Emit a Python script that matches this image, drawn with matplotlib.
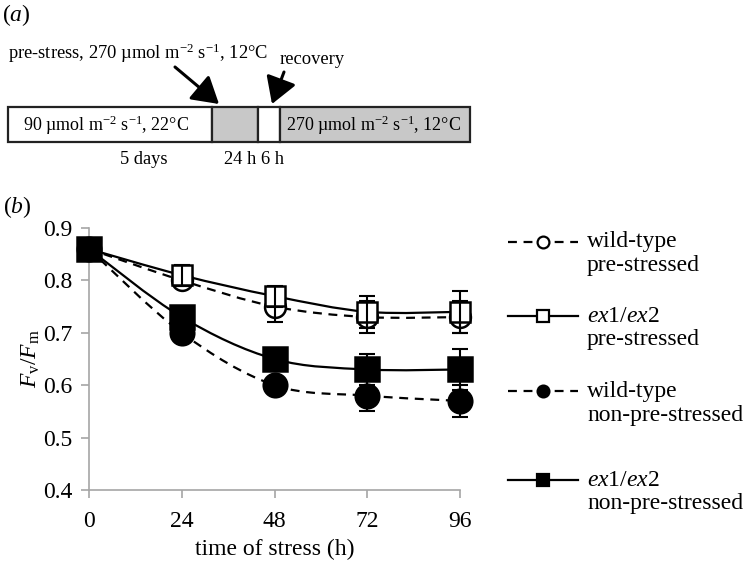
import matplotlib
matplotlib.use("Agg")
import matplotlib.pyplot as plt
from matplotlib.patches import Rectangle, FancyArrowPatch, PathPatch
from matplotlib.path import Path
from matplotlib.lines import Line2D
import numpy as np

plt.rcParams['font.family'] = ['Liberation Serif', 'DejaVu Serif']
plt.rcParams['mathtext.fontset'] = 'custom'
plt.rcParams['mathtext.rm'] = 'Liberation Serif'
plt.rcParams['mathtext.it'] = 'Liberation Serif:italic'

# data, panel (b)
hours = [0, 24, 48, 72, 96]
wt_pre = [0.86, 0.80, 0.75, 0.73, 0.73]
wt_pre_err = [0.0, 0.01, 0.03, 0.03, 0.03]
ex_pre = [0.86, 0.81, 0.77, 0.74, 0.74]
ex_pre_err = [0.0, 0.02, 0.02, 0.03, 0.04]
wt_non = [0.86, 0.70, 0.60, 0.58, 0.57]
wt_non_err = [0.0, 0.01, 0.01, 0.03, 0.03]
ex_non = [0.86, 0.73, 0.65, 0.63, 0.63]
ex_non_err = [0.0, 0.01, 0.01, 0.03, 0.04]

series_labels = ["wild-type\npre-stressed", "$ex1/ex2$\npre-stressed",
                 "wild-type\nnon-pre-stressed", "$ex1/ex2$\nnon-pre-stressed"]

# schematic, panel (a)
seg_labels = ["90 µmol m$^{-2}$ s$^{-1}$, 22°C", "", "", "270 µmol m$^{-2}$ s$^{-1}$, 12°C"]
seg_colors = ["white", "#c8c8c8", "white", "#c8c8c8"]
seg_edges = [8, 212, 258, 280, 470]   # pixel layout
seg_pad = [15, 0, 0, 6]
dur_labels = ["5 days", "24 h", "6 h"]
dur_x = [144, 240, 273]

W, H = 753, 564
fig = plt.figure(figsize=(W / 100, H / 100), dpi=100)

# overlay axes in pixel coords for the schematic
top = fig.add_axes([0, 0, 1, 1])
top.set_xlim(0, W)
top.set_ylim(H, 0)
top.axis("off")

fs = 17     # panel (b) text
fa = 13.3   # panel (a) text
top.text(2, 15, "($a$)", fontsize=fs, va="center", ha="left")
top.text(8, 53, "pre-stress, 270 µmol m$^{-2}$ s$^{-1}$, 12°C", fontsize=fa, va="center", ha="left")
top.text(280, 59, "recovery", fontsize=fa, va="center", ha="left")

for i in range(4):
    x0, x1 = seg_edges[i], seg_edges[i + 1]
    top.add_patch(Rectangle((x0, 107), x1 - x0, 35, facecolor=seg_colors[i],
                            edgecolor="#222222", lw=1.6))
    if seg_labels[i]:
        top.text(x0 + seg_pad[i], 125, seg_labels[i], fontsize=13, va="center", ha="left")
for lab, x in zip(dur_labels, dur_x):
    top.text(x, 160, lab, fontsize=fa, va="center", ha="center")

for (x0, y0), (x1, y1) in [((175, 67), (219, 104)), ((284, 72), (272, 104))]:
    top.add_patch(FancyArrowPatch((x0, y0), (x1, y1), arrowstyle="-|>,head_length=10,head_width=6",
                                  color="black", lw=2.2, mutation_scale=1.6, shrinkA=0, shrinkB=0))

top.text(3, 207, "($b$)", fontsize=fs, va="center", ha="left")

# panel (b)
ax = fig.add_axes([89 / W, 1 - 490 / H, (460 - 89) / W, (490 - 228) / H])
ax.set_xlim(0, 96)
ax.set_ylim(0.4, 0.9)
ax.set_xticks(hours)
ax.set_yticks([0.4, 0.5, 0.6, 0.7, 0.8, 0.9])
ax.set_yticklabels(["0.4", "0.5", "0.6", "0.7", "0.8", "0.9"])
for s in ["top", "right"]:
    ax.spines[s].set_visible(False)
for s in ["left", "bottom"]:
    ax.spines[s].set_color("#a6a6a6")
    ax.spines[s].set_linewidth(1.2)
ax.tick_params(direction="out", length=6, width=1.2, color="#a6a6a6", labelsize=fs, pad=6)
ax.tick_params(axis="x", pad=9)
ax.set_xlabel("time of stress (h)", fontsize=fs, labelpad=5)
ax.set_ylabel("$F_\\mathrm{v}/F_\\mathrm{m}$", fontsize=fs, labelpad=1)


def smooth_path(xs, ys):
    pts = np.column_stack([xs, ys]).astype(float)
    verts = [pts[0]]
    codes = [Path.MOVETO]
    n = len(pts)
    for i in range(n - 1):
        p0 = pts[max(i - 1, 0)]
        p1 = pts[i]
        p2 = pts[i + 1]
        p3 = pts[min(i + 2, n - 1)]
        c1 = p1 + (p2 - p0) / 6.0
        c2 = p2 - (p3 - p1) / 6.0
        verts += [c1, c2, p2]
        codes += [Path.CURVE4] * 3
    return Path(verts, codes)


styles = [
    (wt_pre, wt_pre_err, "o", "white", (0, (4, 3)), 15),
    (ex_pre, ex_pre_err, "s", "white", "-", 15),
    (wt_non, wt_non_err, "o", "black", (0, (4, 3)), 17),
    (ex_non, ex_non_err, "s", "black", "-", 17),
]

# filled series first so the open markers sit on top, as in the reference
order = [2, 3, 0, 1]
for k in order:
    ys, err, mk, fc, ls, ms = styles[k]
    ax.add_patch(PathPatch(smooth_path(hours, ys), facecolor="none", edgecolor="black",
                           lw=1.6, linestyle=ls, zorder=2, clip_on=False))
for k in order:
    ys, err, mk, fc, ls, ms = styles[k]
    ax.plot(hours, ys, linestyle="none", marker=mk, markersize=ms, markerfacecolor=fc,
            markeredgecolor="black", markeredgewidth=1.8, zorder=3 + k, clip_on=False)
    ax.errorbar(hours[1:], ys[1:], yerr=err[1:], fmt="none", ecolor="black", elinewidth=1.5,
                capsize=6, capthick=1.5, zorder=3 + k + 0.5, clip_on=False)

# legend, drawn by hand in pixel coords
leg_y = [242, 316, 391, 480]
for k, y in enumerate(leg_y):
    ys, err, mk, fc, ls, ms = styles[k]
    top.add_line(Line2D([508, 578], [y, y], color="black", lw=1.6, linestyle=ls))
    top.plot([543], [y], marker=mk, markersize=8.5, markerfacecolor=fc,
             markeredgecolor="black", markeredgewidth=1.6)
    first, second = series_labels[k].split("\n")
    top.text(587, y, first, fontsize=fs, va="center", ha="left")
    top.text(587, y + 24, second, fontsize=fs, va="center", ha="left")

fig.savefig("out.png", dpi=100)
plt.close(fig)
